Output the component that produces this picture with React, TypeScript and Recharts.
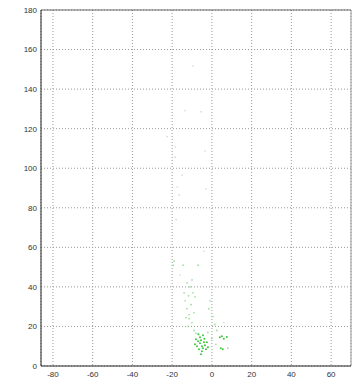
import React from 'react';
import {
  ScatterChart,
  Scatter,
  XAxis,
  YAxis,
  CartesianGrid,
  ReferenceLine,
} from 'recharts';

const xTicks = [-80, -60, -40, -20, 0, 20, 40, 60];
const yTicks = [0, 20, 40, 60, 80, 100, 120, 140, 160, 180];

// dense green core near the bottom
const densePoints = [
  { x: -6, y: 11.5 }, { x: -5, y: 10 }, { x: -4.5, y: 9 }, { x: -7, y: 12.5 },
  { x: -5.5, y: 13 }, { x: -3.5, y: 10.5 }, { x: -6.5, y: 8.5 }, { x: -4, y: 12 },
  { x: -5, y: 7.5 }, { x: -3, y: 8.5 }, { x: -6, y: 14.5 }, { x: -7.5, y: 10 },
  { x: -4.5, y: 15.5 }, { x: -5.5, y: 6 }, { x: -2.5, y: 12 }, { x: -8, y: 13.5 },
  { x: -6.8, y: 16 }, { x: -3.8, y: 13.8 }, { x: -8.5, y: 11 }, { x: -2, y: 9.5 },
  { x: 4, y: 14.5 }, { x: 5, y: 15 }, { x: 7.5, y: 14.7 }, { x: 6, y: 13.8 },
  { x: 4.5, y: 9 }, { x: 5.5, y: 8.5 },
];

// lighter green scatter along the band
const lightPoints = [
  { x: -19, y: 53 }, { x: -19.5, y: 51 }, { x: -14.5, y: 51 }, { x: -7, y: 51 },
  { x: -12.5, y: 42 }, { x: -10, y: 43.5 }, { x: -11, y: 40 }, { x: -9.5, y: 37 },
  { x: -8.5, y: 35 }, { x: -13.5, y: 33 }, { x: -12.5, y: 29 }, { x: -11.5, y: 26 },
  { x: -11.5, y: 24 }, { x: -10, y: 22 }, { x: -12, y: 20 }, { x: -9, y: 18 },
  { x: -1, y: 33 }, { x: -1.5, y: 29 }, { x: 0.5, y: 25 }, { x: 1.5, y: 21 },
  { x: 2.5, y: 18 }, { x: -8, y: 16.5 }, { x: -2, y: 17 }, { x: 0, y: 14 },
  { x: 2, y: 11 }, { x: 8, y: 9 }, { x: -9, y: 27 }, { x: -14, y: 37 },
  { x: -13, y: 24.5 }, { x: -10.5, y: 31 }, { x: -11.8, y: 35.5 },
];

// faint points higher up
const faintPoints = [
  { x: -9.5, y: 151.7 }, { x: -13.5, y: 129 }, { x: -5.5, y: 128.5 },
  { x: -22.5, y: 116 }, { x: -18.5, y: 110.7 }, { x: -18.5, y: 105.6 },
  { x: -3.5, y: 108.7 }, { x: -15, y: 96.5 }, { x: -17.5, y: 90.5 },
  { x: -3, y: 89.5 }, { x: -16.5, y: 86.5 }, { x: -18, y: 74 },
  { x: -4, y: 58 }, { x: 2, y: 40 }, { x: -16, y: 46 }, { x: 6, y: 22 },
];

const Dot = (color: string, r: number) => (props: any) => (
  <circle cx={props.cx} cy={props.cy} r={r} fill={color} />
);

export default function App() {
  return (
    <div style={{ position: 'absolute', left: 0, top: 0, background: '#fff' }}>
      <ScatterChart
        width={356}
        height={382}
        margin={{ top: 10, right: 5, bottom: 0, left: 0 }}
        style={{ fontFamily: 'Liberation Sans, Arial, sans-serif' }}
      >
        <CartesianGrid stroke="#999" strokeDasharray="1 2" />
        <XAxis
          type="number"
          dataKey="x"
          domain={[-86, 70]}
          ticks={xTicks}
          allowDataOverflow
          height={16}
          tickSize={0}
          tickMargin={5}
          axisLine={{ stroke: '#222' }}
          tick={{ fontSize: 8, fill: '#333' }}
        />
        <YAxis
          type="number"
          dataKey="y"
          domain={[0, 180]}
          ticks={yTicks}
          allowDataOverflow
          width={41}
          tickSize={0}
          tickMargin={4}
          axisLine={{ stroke: '#222' }}
          tick={{ fontSize: 8, fill: '#333' }}
        />
        <ReferenceLine y={180} stroke="#666" />
        <ReferenceLine x={70} stroke="#999" />
        <Scatter data={faintPoints} shape={Dot('#c8dcc8', 0.8)} isAnimationActive={false} />
        <Scatter data={lightPoints} shape={Dot('#9ade9a', 0.85)} isAnimationActive={false} />
        <Scatter data={densePoints} shape={Dot('#3cc83c', 1)} isAnimationActive={false} />
      </ScatterChart>
    </div>
  );
}
